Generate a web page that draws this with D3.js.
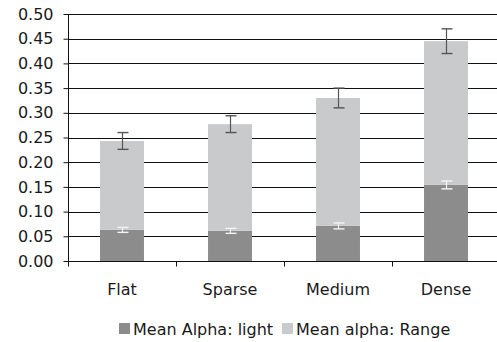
<!DOCTYPE html>
<html><head><meta charset="utf-8">
<script src="https://cdn.jsdelivr.net/npm/d3@7"></script>
<style>body{margin:0;background:#fff;}svg{display:block;}text{font-family:"DejaVu Sans",Verdana,sans-serif;font-size:16px;fill:#1a1a1a;}</style>
</head><body><svg id="c" width="497" height="342"></svg>
<script>
const categories = ["Flat","Sparse","Medium","Dense"];
const lightVals = [0.063,0.061,0.071,0.154];
const lightErr = [0.005,0.005,0.006,0.008];
const rangeVals = [0.180,0.216,0.259,0.291];
const totalErr = [0.017,0.017,0.020,0.025];
const yTicks = [0,0.05,0.10,0.15,0.20,0.25,0.30,0.35,0.40,0.45,0.50];
const seriesNames = ["Mean Alpha: light","Mean alpha: Range"];
const colors = ["#8c8c8c","#c9cacc"];

const svg = d3.select("#c");
const L=68, R=500, T=14, B=261;
const x = d3.scaleBand().domain(categories).range([L,R]).padding(0);
const y = d3.scaleLinear().domain([0,0.5]).range([B,T]);
const bw = x.bandwidth()*0.407;
const py = v => Math.round(y(v))+0.5;

// gridlines
svg.append("g").selectAll("line").data(yTicks.filter(d=>d>0)).join("line")
  .attr("x1",L).attr("x2",497).attr("y1",py).attr("y2",py)
  .attr("stroke","#111").attr("stroke-width",1);

// bars
const g = svg.append("g");
categories.forEach((c,i)=>{
  const cx = x(c)+x.bandwidth()/2;
  const l = lightVals[i], r = rangeVals[i], tot = l + r;
  g.append("rect").attr("x",cx-bw/2).attr("width",bw)
    .attr("y",y(l)).attr("height",y(0)-y(l)).attr("fill",colors[0]);
  g.append("rect").attr("x",cx-bw/2).attr("width",bw)
    .attr("y",y(tot)).attr("height",y(l)-y(tot)).attr("fill",colors[1]);
  const eb = (v,e,col)=>{
    const ex = Math.round(cx)+0.5;
    g.append("line").attr("x1",ex).attr("x2",ex).attr("y1",y(v+e)).attr("y2",y(v-e)).attr("stroke",col).attr("stroke-width",1.2);
    [v+e,v-e].forEach(vv=>g.append("line").attr("x1",ex-5).attr("x2",ex+6).attr("y1",y(vv)).attr("y2",y(vv)).attr("stroke",col).attr("stroke-width",1.4));
  };
  eb(tot,totalErr[i],"#555");
  eb(l,lightErr[i],"#f4f4f4");
});

// y axis
const ya = svg.append("g").attr("transform",`translate(${L+0.5},0)`)
  .call(d3.axisLeft(y).tickValues(yTicks).tickFormat(d3.format(".2f")).tickSize(5).tickPadding(10));
ya.select(".domain").attr("stroke","#111").attr("d",`M0,${T}V${B+5}`);
ya.selectAll(".tick line").attr("stroke","#111");
ya.selectAll("text").style("font-size","16px").style("font-family","'DejaVu Sans',Verdana,sans-serif").attr("fill","#1a1a1a");

// x axis
const xa = svg.append("g").attr("transform",`translate(0,${Math.round(B)+0.5})`);
xa.append("line").attr("x1",L).attr("x2",497).attr("stroke","#111");
xa.selectAll(".tk").data(categories).join("line").attr("class","tk")
  .attr("x1",d=>Math.round(x(d))+0.5).attr("x2",d=>Math.round(x(d))+0.5).attr("y1",0).attr("y2",5).attr("stroke","#111");
xa.selectAll("text").data(categories).join("text")
  .attr("x",d=>x(d)+x.bandwidth()/2).attr("y",33).attr("text-anchor","middle").text(d=>d);

// legend
const lg = svg.append("g");
const lx = [119,282];
seriesNames.forEach((n,i)=>{
  lg.append("rect").attr("x",lx[i]).attr("y",323).attr("width",11).attr("height",11).attr("fill",colors[i]);
  lg.append("text").attr("x",lx[i]+14).attr("y",335).text(n);
});
</script></body></html>
